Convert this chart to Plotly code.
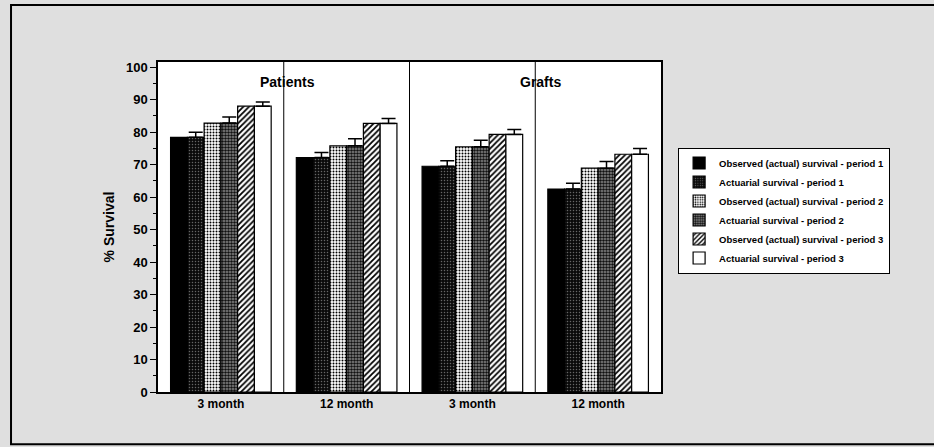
import plotly.graph_objects as go

# Survival by follow-up time, patients vs. grafts, three treatment periods
categories = ["3 month", "12 month", "3 month", "12 month"]
panels = ["Patients", "Grafts"]

observed_p1 = [78.4, 72.2, 69.5, 62.5]
actuarial_p1 = [78.4, 72.2, 69.5, 62.5]
actuarial_p1_err = [1.6, 1.5, 1.7, 1.8]

observed_p2 = [82.8, 75.8, 75.5, 68.9]
actuarial_p2 = [82.8, 75.8, 75.5, 68.9]
actuarial_p2_err = [1.9, 2.2, 2.0, 2.1]

observed_p3 = [88.0, 82.7, 79.3, 73.2]
actuarial_p3 = [88.0, 82.7, 79.3, 73.2]
actuarial_p3_err = [1.3, 1.5, 1.5, 1.8]

y_ticks = [0, 10, 20, 30, 40, 50, 60, 70, 80, 90, 100]

FONT = "Liberation Sans, Arial, sans-serif"
x = list(range(len(categories)))


def bold(s):
    return f"<b>{s}</b>"


series = [
    ("Observed (actual) survival - period 1", observed_p1, None,
     dict(color="#000000")),
    ("Actuarial survival - period 1", actuarial_p1, actuarial_p1_err,
     dict(color="#0a0a0a", pattern=dict(shape=".", bgcolor="#0a0a0a", fgcolor="#666666",
                                         size=3, solidity=0.2, fillmode="replace"))),
    ("Observed (actual) survival - period 2", observed_p2, None,
     dict(color="#ffffff", pattern=dict(shape=".", bgcolor="#ffffff", fgcolor="#000000",
                                         size=3, solidity=0.35, fillmode="replace"))),
    ("Actuarial survival - period 2", actuarial_p2, actuarial_p2_err,
     dict(color="#666666", pattern=dict(shape=".", bgcolor="#8c8c8c", fgcolor="#111111",
                                         size=3, solidity=0.55, fillmode="replace"))),
    ("Observed (actual) survival - period 3", observed_p3, None,
     dict(color="#ffffff", pattern=dict(shape="/", bgcolor="#ffffff", fgcolor="#000000",
                                         size=4, solidity=0.45, fillmode="replace"))),
    ("Actuarial survival - period 3", actuarial_p3, actuarial_p3_err,
     dict(color="#ffffff")),
]

fig = go.Figure()
for name, vals, err, marker in series:
    marker = dict(marker)
    marker["line"] = dict(color="#000000", width=1.2)
    kw = {}
    if err is not None:
        kw["error_y"] = dict(type="data", symmetric=False, array=err,
                             arrayminus=[0] * len(err), color="#000000",
                             thickness=1.5, width=7)
    fig.add_trace(go.Bar(x=x, y=vals, name=bold(name), marker=marker, **kw))

# Panel dividers between time points / panels
for xd in [0.5, 1.5, 2.5]:
    fig.add_shape(type="line", xref="x", yref="paper", x0=xd, x1=xd, y0=0, y1=1,
                  line=dict(color="#000000", width=1))

# Panel headings
fig.add_annotation(x=0.53, y=95.5, xref="x", yref="y", text=bold(panels[0]), showarrow=False,
                   font=dict(family=FONT, size=14, color="#000000"))
fig.add_annotation(x=2.54, y=95.5, xref="x", yref="y", text=bold(panels[1]), showarrow=False,
                   font=dict(family=FONT, size=14, color="#000000"))

# Outer frame of the figure
fig.add_shape(type="rect", xref="paper", yref="paper",
              x0=-0.2922, x1=1.57, y0=-0.158, y1=1.173,
              line=dict(color="#000000", width=2), layer="below")

fig.update_layout(
    width=934, height=447,
    margin=dict(l=158, r=273, t=62, b=55),
    paper_bgcolor="#dfdfdf",
    plot_bgcolor="#ffffff",
    barmode="group",
    bargap=0.2,
    bargroupgap=0,
    font=dict(family=FONT, size=12, color="#000000"),
    showlegend=True,
    legend=dict(x=1.034, y=0.55, xanchor="left", yanchor="middle",
                bgcolor="#ffffff", bordercolor="#000000", borderwidth=1,
                font=dict(family=FONT, size=9.5, color="#000000"),
                tracegroupgap=0, itemwidth=30, traceorder="normal"),
    xaxis=dict(range=[-0.5, 3.5], tickvals=x, ticktext=[bold(c) for c in categories],
               showline=True, linecolor="#000000", linewidth=1.5, mirror=True,
               ticks="", showgrid=False, zeroline=False,
               tickfont=dict(family=FONT, size=12, color="#000000")),
    yaxis=dict(range=[0, 101.6], tickvals=y_ticks, ticktext=[bold(t) for t in y_ticks],
               showline=True, linecolor="#000000", linewidth=1.5, mirror=True,
               ticks="outside", ticklen=6, tickwidth=1.2, tickcolor="#000000",
               minor=dict(dtick=5, ticks="outside", ticklen=3, tickcolor="#000000", tickwidth=1),
               showgrid=False, zeroline=False,
               title=dict(text=bold("% Survival"), font=dict(family=FONT, size=14, color="#000000"),
                          standoff=8),
               tickfont=dict(family=FONT, size=13, color="#000000")),
)

fig.write_html("out.html")
